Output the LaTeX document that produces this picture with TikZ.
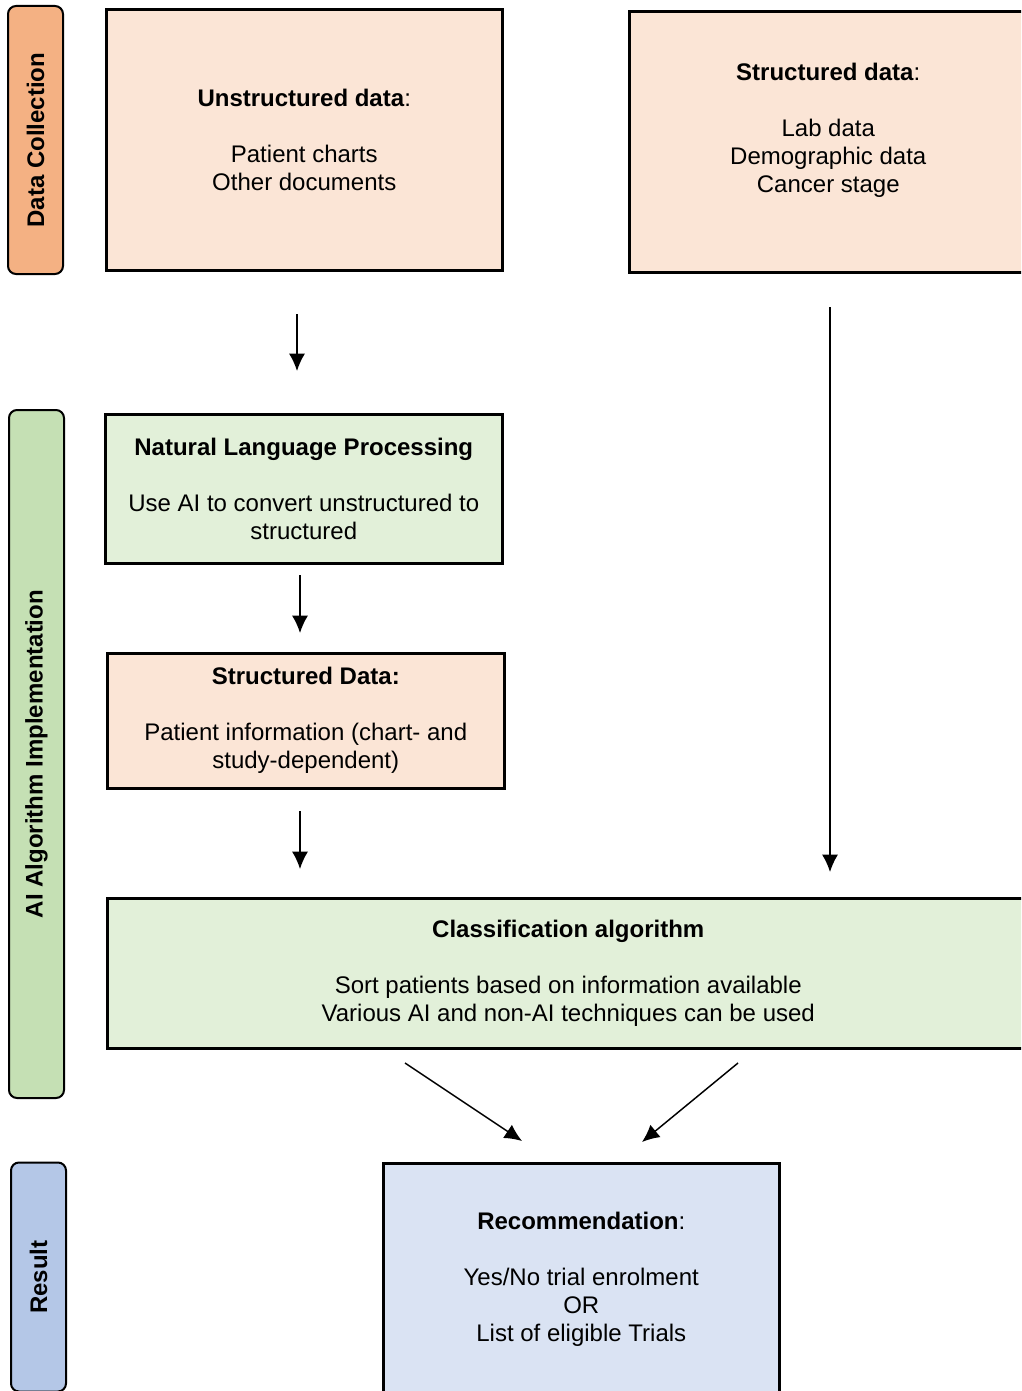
\documentclass[tikz,border=0pt]{standalone}
\usepackage{fontspec}
\setmainfont{Liberation Sans}
\usetikzlibrary{arrows.meta}
\definecolor{tabOrange}{HTML}{F4B183}
\definecolor{tabGreen}{HTML}{C5E0B4}
\definecolor{tabBlue}{HTML}{B4C7E7}
\definecolor{boxPeach}{HTML}{FBE5D6}
\definecolor{boxGreen}{HTML}{E2F0D9}
\definecolor{boxBlue}{HTML}{DAE3F3}
\begin{document}
\begin{tikzpicture}[x=0.75pt,y=-0.75pt,
  box/.style={draw=black, line width=1.9pt, rectangle, anchor=north west, align=center,
    inner sep=0pt, font=\fontsize{18}{21}\selectfont},
  tab/.style={draw=black, line width=1.5pt, rectangle, rounded corners=6pt, rotate=90,
    inner sep=0pt, font=\fontsize{18}{21}\selectfont\bfseries},
  arr/.style={line width=1.1pt, -{Latex[length=13pt,width=12pt]}}]
\useasboundingbox (0,0) rectangle (1021,1391);
\begin{scope}
\clip (0,0) rectangle (1021,1391);
% side tabs
\node[tab, fill=tabOrange, minimum width=201pt, minimum height=41.25pt] (dc) at (35.5,140) {Data Collection};
\node[tab, fill=tabGreen, minimum width=516pt, minimum height=41.25pt] (ai) at (36.5,754) {AI Algorithm Implementation};
\node[tab, fill=tabBlue, minimum width=171.75pt, minimum height=41.25pt] (res) at (38.5,1277) {Result};
% boxes
\node[box, fill=boxPeach, minimum width=297pt, minimum height=195.75pt] (unst) at (105,8)
  {\textbf{Unstructured data}:\\[21pt]Patient charts\\Other documents};
\node[box, fill=boxPeach, minimum width=298.5pt, minimum height=195.75pt] (struct) at (628,10)
  {\textbf{Structured data}:\\[21pt]Lab data\\Demographic data\\Cancer stage\\\mbox{}};
\node[box, fill=boxGreen, minimum width=297.75pt, minimum height=111.75pt] (nlp) at (104,413)
  {\textbf{Natural Language Processing}\\[21pt]Use AI to convert unstructured to\\structured};
\node[box, fill=boxPeach, minimum width=297.75pt, minimum height=101.25pt] (sd) at (106,652)
  {\textbf{Structured Data:}\\[21pt]Patient information (chart- and\\study-dependent)};
\node[box, fill=boxGreen, minimum width=691.5pt, minimum height=112.5pt] (cls) at (106,897)
  {\textbf{Classification algorithm}\\[21pt]Sort patients based on information available\\Various AI and non-AI techniques can be used};
\node[box, fill=boxBlue, minimum width=297pt, minimum height=174pt] (rec) at (382,1162)
  {\textbf{Recommendation}:\\[21pt]Yes/No trial enrolment\\OR\\List of eligible Trials};
% arrows
\coordinate (a1s) at (297,314); \coordinate (a1e) at (297,371);
\coordinate (a2s) at (830,307); \coordinate (a2e) at (830,872);
\coordinate (a3s) at (300,575); \coordinate (a3e) at (300,633);
\coordinate (a4s) at (300,811); \coordinate (a4e) at (300,869);
\coordinate (a5s) at (405,1063); \coordinate (a5e) at (522,1141);
\coordinate (a6s) at (738,1063); \coordinate (a6e) at (642,1142);
\draw[arr] (a1s) -- (a1e);
\draw[arr] (a2s) -- (a2e);
\draw[arr] (a3s) -- (a3e);
\draw[arr] (a4s) -- (a4e);
\draw[arr] (a5s) -- (a5e);
\draw[arr] (a6s) -- (a6e);
\end{scope}
\end{tikzpicture}
\end{document}
